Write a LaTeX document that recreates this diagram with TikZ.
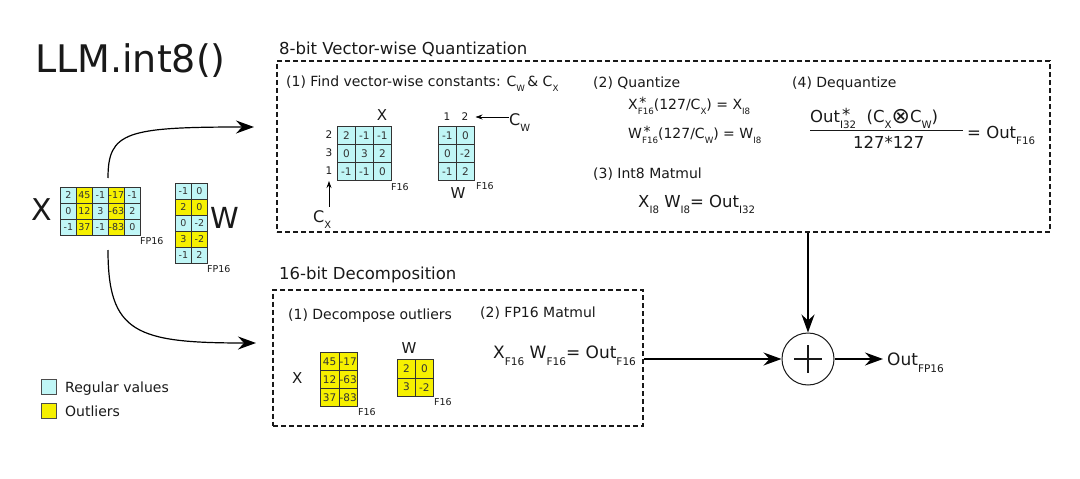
\documentclass[tikz,border=0pt]{standalone}
\usepackage{fontspec}
\setmainfont{DejaVu Sans}
\usepackage{graphicx}
\usetikzlibrary{arrows.meta,calc,positioning}

\definecolor{regcol}{RGB}{192,246,246}
\definecolor{outcol}{RGB}{246,240,0}
\definecolor{inkcol}{RGB}{25,25,25}
\newcommand\setfs[1]{\fontsize{#1}{#1}\selectfont}
\newcommand\lo[1]{\raisebox{-0.42em}{\scalebox{0.62}{#1}}}
\newcommand\astmark{\rlap{\hspace{0.12em}\raisebox{0.12em}{*}}}
\newcommand\otim{{\setfs{22}\raisebox{-0.08em}{⊗}}}

\begin{document}
\begin{tikzpicture}[
    x=1pt,y=-1pt,
    txt/.style={anchor=base west,inner sep=0,text=inkcol,font=\setfs{14}},
    ctxt/.style={txt,anchor=base},
    tiny/.style={txt,font=\setfs{9.5}},
    cell/.style={draw=black!80,line width=0.8pt,anchor=north west,inner sep=0,
      minimum width=16pt,minimum height=16pt,font=\setfs{9.5},text=black!80},
    cellb/.style={cell,minimum width=18pt,minimum height=18pt,font=\setfs{10.5}},
    dbox/.style={draw=inkcol,line width=2pt,dash pattern=on 5pt off 3pt,inner sep=0},
    legbox/.style={draw=black!70,line width=0.8pt,minimum size=15pt,inner sep=0},
    arr/.style={-{Stealth[length=18pt,width=13pt,inset=6pt]},line width=1.2pt},
    sarr/.style={-{Stealth[length=7pt,width=5pt]},line width=0.8pt},
    >=Stealth
  ]
  \useasboundingbox (0,0) rectangle (1080,479);

  % Title
  \node[txt,font=\setfs{38}] (llm) at (35,72) {LLM.int8()};

  % Input X (FP16)
  \node[txt,font=\setfs{30}] (Xin) at (31,220) {X};
  \foreach \vals [count=\r] in {{2,45,-1,-17,-1},{0,12,3,-63,2},{-1,37,-1,-83,0}}{
    \foreach \a [count=\c] in \vals {
      \ifodd\c \def\fc{regcol}\else \def\fc{outcol}\fi
      \node[cell,fill=\fc] (xin-\r-\c) at ({60+16*(\c-1)},{187+16*(\r-1)}) {\a};
    }
  }
  \node[tiny] (xinfp) at (140,244) {FP16};

  % Input W (FP16)
  \foreach \vals [count=\r] in {{-1,0},{2,0},{0,-2},{3,-2},{-1,2}}{
    \foreach \a [count=\c] in \vals {
      \ifodd\r \def\fc{regcol}\else \def\fc{outcol}\fi
      \node[cell,fill=\fc] (win-\r-\c) at ({175+16*(\c-1)},{183+16*(\r-1)}) {\a};
    }
  }
  \node[txt,font=\setfs{29}] (Win) at (210,228) {W};
  \node[tiny] (winfp) at (207,272) {FP16};

  % Split into the two paths
  \coordinate (splitup) at (108,178);
  \coordinate (splitdn) at (108,250);
  \coordinate (toquant) at (254,127);
  \coordinate (todec) at (256,343);
  \draw[arr] (splitup) .. controls (108,132) and (126,127) .. (toquant);
  \draw[arr] (splitdn) .. controls (108,333) and (136,343) .. (todec);

  % Legend
  \node[legbox,fill=regcol] (legreg) at (49,387) {};
  \node[legbox,fill=outcol] (legout) at (49,411) {};
  \node[txt] (legregtxt) at (65,392) {Regular values};
  \node[txt] (legouttxt) at (65,416) {Outliers};

  % 8-bit Vector-wise Quantization
  \node[txt,font=\setfs{16.5}] (qtitle) at (279,54) {8-bit Vector-wise Quantization};
  \node[dbox,minimum width=773pt,minimum height=171pt] (quantbox) at (663.5,146.5) {};

  % (1) constants
  \node[txt] (qstep1) at (286,86) {(1) Find vector-wise constants: C\lo{W}\,\& C\lo{X}};
  \node[ctxt,font=\setfs{15}] (xqlab) at (382,120) {X};
  \foreach \vals [count=\r] in {{2,-1,-1},{0,3,2},{-1,-1,0}}{
    \foreach \a [count=\c] in \vals {
      \node[cellb,fill=regcol] (xq-\r-\c) at ({337+18*(\c-1)},{126+18*(\r-1)}) {\a};
    }
  }
  \foreach \a [count=\r] in {2,3,1}{
    \node[inner sep=0,text=inkcol,font=\setfs{10.5}] (xrow-\r) at (329,{135+18*(\r-1)}) {\a};
  }
  \node[tiny] (xqfp) at (391,190) {F16};
  \node[txt,font=\setfs{16}] (cxlab) at (313,222) {C\lo{X}};
  \draw[sarr] (cxlab.north -| xrow-3) ++(0,-3) coordinate (cxtail) (cxtail) -- ($(xrow-3.south)+(0,6)$);

  \foreach \vals [count=\r] in {{-1,0},{0,-2},{-1,2}}{
    \foreach \a [count=\c] in \vals {
      \node[cellb,fill=regcol] (wq-\r-\c) at ({438+18*(\c-1)},{126+18*(\r-1)}) {\a};
    }
  }
  \foreach \a [count=\c] in {1,2}{
    \node[inner sep=0,text=inkcol,font=\setfs{10.5}] (wcol-\c) at ({447+18*(\c-1)},117) {\a};
  }
  \node[txt,font=\setfs{16}] (cwlab) at (509,125) {C\lo{W}};
  \draw[sarr] (cwlab.west |- wcol-2) -- ($(wcol-2.east)+(7,0)$);
  \node[ctxt,font=\setfs{15}] (wqlab) at (458,198) {W};
  \node[tiny] (wqfp) at (476,189) {F16};

  % (2) Quantize
  \node[txt] (qstep2) at (593,87) {(2) Quantize};
  \node[txt] (qeqx) at (628,109) {X\astmark\lo{F16}(127/C\lo{X}) = X\lo{I8}};
  \node[txt] (qeqw) at (628,138) {W\astmark\lo{F16}(127/C\lo{W}) = W\lo{I8}};

  % (3) Int8 Matmul
  \node[txt] (qstep3) at (593,178) {(3) Int8 Matmul};
  \node[txt,font=\setfs{16.5}] (qeqmm) at (638,207) {X\lo{I8} W\lo{I8}= Out\lo{I32}};

  % (4) Dequantize
  \node[txt] (qstep4) at (792,87) {(4) Dequantize};
  \node[txt,font=\setfs{16.5}] (dqnum) at (810,122) {Out\astmark\lo{I32}\ \ (C\lo{X}\otim C\lo{W})};
  \coordinate (fracl) at (810,130);
  \coordinate (fracr) at (963,130);
  \draw[line width=1pt,inkcol] (fracl) -- (fracr);
  \node[txt,font=\setfs{16.5}] (dqden) at (853,148) {127*127};
  \node[txt,font=\setfs{16.5}] (dqout) at (967,138) {= Out\lo{F16}};

  % 16-bit Decomposition
  \node[txt,font=\setfs{16.5}] (dtitle) at (279,279) {16-bit Decomposition};
  \node[dbox,minimum width=370pt,minimum height=136pt] (decbox) at (458,357.5) {};

  % (1) Decompose outliers
  \node[txt] (dstep1) at (288,319) {(1) Decompose outliers};
  \node[txt,font=\setfs{15}] (xdlab) at (292,383) {X};
  \foreach \vals [count=\r] in {{45,-17},{12,-63},{37,-83}}{
    \foreach \a [count=\c] in \vals {
      \node[cell,fill=outcol,minimum width=18.5pt,minimum height=18pt,font=\setfs{10.5}]
        (xd-\r-\c) at ({320+18.5*(\c-1)},{352+18*(\r-1)}) {\a};
    }
  }
  \node[tiny] (xdfp) at (358,415) {F16};
  \node[ctxt,font=\setfs{15}] (wdlab) at (409,353) {W};
  \foreach \vals [count=\r] in {{2,0},{3,-2}}{
    \foreach \a [count=\c] in \vals {
      \node[cell,fill=outcol,minimum width=18pt,minimum height=18.5pt,font=\setfs{10.5}]
        (wd-\r-\c) at ({397+18*(\c-1)},{359+18.5*(\r-1)}) {\a};
    }
  }
  \node[tiny] (wdfp) at (434,405) {F16};

  % (2) FP16 Matmul
  \node[txt] (dstep2) at (480,317) {(2) FP16 Matmul};
  \node[txt,font=\setfs{17}] (deqmm) at (493,358) {X\lo{F16} W\lo{F16}= Out\lo{F16}};

  % Sum of both paths
  \node[circle,draw=inkcol,line width=1pt,minimum size=52pt,inner sep=0] (plus) at (808,359) {};
  \draw[line width=2.6pt,inkcol] ($(plus.center)+(-14,0)$) -- ($(plus.center)+(14,0)$);
  \draw[line width=2.6pt,inkcol] ($(plus.center)+(0,-14)$) -- ($(plus.center)+(0,14)$);
  \node[txt,font=\setfs{17}] (out) at (887,365) {Out\lo{FP16}};

  \draw[arr] (quantbox.south -| plus.north) -- (plus.north);
  \draw[arr] (decbox.east |- plus.west) -- (plus.west);
  \draw[arr] (plus.east) -- ($(plus.east -| out.west)+(-4,0)$);

\end{tikzpicture}
\end{document}
